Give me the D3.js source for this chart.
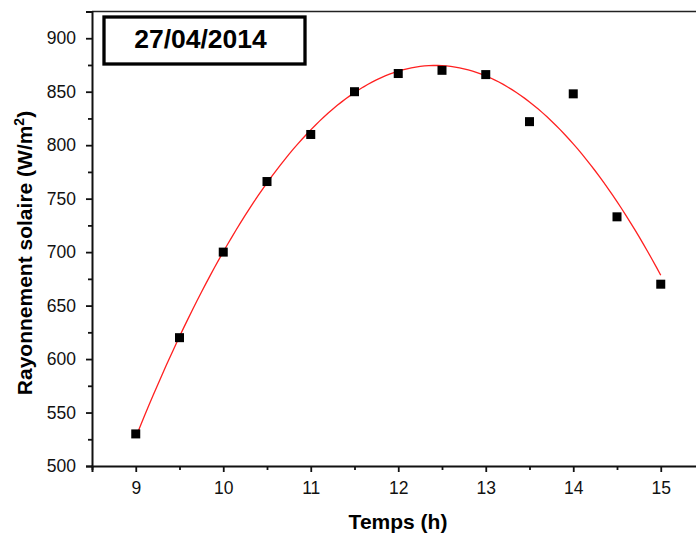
<!DOCTYPE html>
<html lang="fr">
    <head>
        <meta charset="utf-8"/>
        <script src="https://d3js.org/d3.v7.min.js"></script>
        <style>
            body { margin: 0; background: #fff; }
            text { font-family: "Liberation Sans", Arial, sans-serif; }
        </style>
    </head>
    <body>
        <div id="chart"></div>
    </body>
    <script>
        // mesures du 27/04/2014
        var heures = [9, 9.5, 10, 10.5, 11, 11.5, 12, 12.5, 13, 13.5, 14, 14.5, 15];
        var rayonnement = [530, 620, 700, 766, 810, 850, 867, 870, 866, 822, 848, 733, 670];
        var xTicks = [9, 10, 11, 12, 13, 14, 15];
        var yTicks = [500, 550, 600, 650, 700, 750, 800, 850, 900];

        var W = 696, H = 538;
        var margin = {top: 11.5, left: 92, bottom: 72};
        var width = 612.5;
        var height = H - margin.top - margin.bottom;

        var svg = d3.select("#chart")
            .append("svg")
                .attr("width", W)
                .attr("height", H)
            .append("g")
                .attr("transform", "translate(" + margin.left + "," + margin.top + ")");

        var x = d3.scaleLinear().domain([8.5, 15.5]).range([0, width]);
        var y = d3.scaleLinear().domain([500, 925]).range([height, 0]);

        // ajustement polynomial d'ordre 2 (moindres carrés)
        function fitQuad(xs, ys) {
            var s = [0, 0, 0, 0, 0], t = [0, 0, 0];
            xs.forEach(function (xi, i) {
                for (var k = 0; k < 5; k++) s[k] += Math.pow(xi, k);
                for (var k = 0; k < 3; k++) t[k] += ys[i] * Math.pow(xi, k);
            });
            var A = [[s[0], s[1], s[2], t[0]], [s[1], s[2], s[3], t[1]], [s[2], s[3], s[4], t[2]]];
            for (var i = 0; i < 3; i++) {
                for (var j = i + 1; j < 3; j++) {
                    var f = A[j][i] / A[i][i];
                    for (var k = i; k < 4; k++) A[j][k] -= f * A[i][k];
                }
            }
            var c = [0, 0, 0];
            for (var i = 2; i >= 0; i--) {
                var v = A[i][3];
                for (var k = i + 1; k < 3; k++) v -= A[i][k] * c[k];
                c[i] = v / A[i][i];
            }
            return function (v) { return c[0] + c[1] * v + c[2] * v * v; };
        }
        var fit = fitQuad(heures, rayonnement);
        var fitPts = d3.range(9, 15.0001, 0.05);

        // cadre du haut
        svg.append("line")
            .attr("x1", 0).attr("x2", width)
            .attr("y1", 0).attr("y2", 0)
            .attr("stroke", "#222").attr("stroke-width", 1.5);

        // axe x
        svg.append("g")
            .attr("transform", "translate(0," + height + ")")
            .call(d3.axisBottom(x).tickValues(xTicks).tickSize(6).tickPadding(10).tickFormat(d3.format("d")));
        svg.append("g")
            .attr("transform", "translate(0," + height + ")")
            .call(d3.axisBottom(x).tickValues(d3.range(8.5, 15.6, 1)).tickSize(4).tickFormat(""))
            .call(function (g) { g.select(".domain").remove(); });

        // axe y
        svg.append("g")
            .call(d3.axisLeft(y).tickValues(yTicks).tickSize(6).tickPadding(10));
        svg.append("g")
            .call(d3.axisLeft(y).tickValues(d3.range(525, 926, 50)).tickSize(4).tickFormat(""))
            .call(function (g) { g.select(".domain").remove(); });

        svg.selectAll(".domain").attr("stroke", "#111").attr("stroke-width", 2);
        svg.selectAll(".tick line").attr("stroke", "#111").attr("stroke-width", 1.8);
        svg.selectAll(".tick text")
            .attr("font-size", 17.5)
            .attr("fill", "#111")
            .style("font-family", "'Liberation Sans', Arial, sans-serif");

        // courbe ajustée
        svg.append("path")
            .datum(fitPts)
            .attr("fill", "none")
            .attr("stroke", "#ff2020")
            .attr("stroke-width", 1.3)
            .attr("d", d3.line()
                .x(function (d) { return x(d); })
                .y(function (d) { return y(fit(d)); }));

        // points mesurés
        svg.append("g")
            .selectAll("rect")
            .data(heures)
            .enter()
            .append("rect")
            .attr("x", function (d) { return x(d) - 4.5; })
            .attr("y", function (d, i) { return y(rayonnement[i]) - 4.5; })
            .attr("width", 9)
            .attr("height", 9)
            .attr("fill", "#000");

        // titres des axes
        svg.append("text")
            .attr("x", 306)
            .attr("y", 517.5)
            .attr("text-anchor", "middle")
            .attr("font-size", 21)
            .attr("font-weight", "bold")
            .text("Temps (h)");

        var ylab = svg.append("text")
            .attr("transform", "translate(-60,241.5) rotate(-90)")
            .attr("text-anchor", "middle")
            .attr("font-size", 21)
            .attr("font-weight", "bold");
        ylab.append("tspan").text("Rayonnement solaire (W/m");
        ylab.append("tspan").attr("font-size", 14).attr("dy", -8).text("2");
        ylab.append("tspan").attr("dy", 8).text(")");

        // étiquette de date
        svg.append("rect")
            .attr("x", 12)
            .attr("y", 5.5)
            .attr("width", 201)
            .attr("height", 47)
            .attr("fill", "#fff")
            .attr("stroke", "#000")
            .attr("stroke-width", 3.3);
        svg.append("text")
            .attr("x", 108.5)
            .attr("y", 36.5)
            .attr("text-anchor", "middle")
            .attr("font-size", 26.5)
            .attr("font-weight", "bold")
            .text("27/04/2014");
    </script>
</html>
